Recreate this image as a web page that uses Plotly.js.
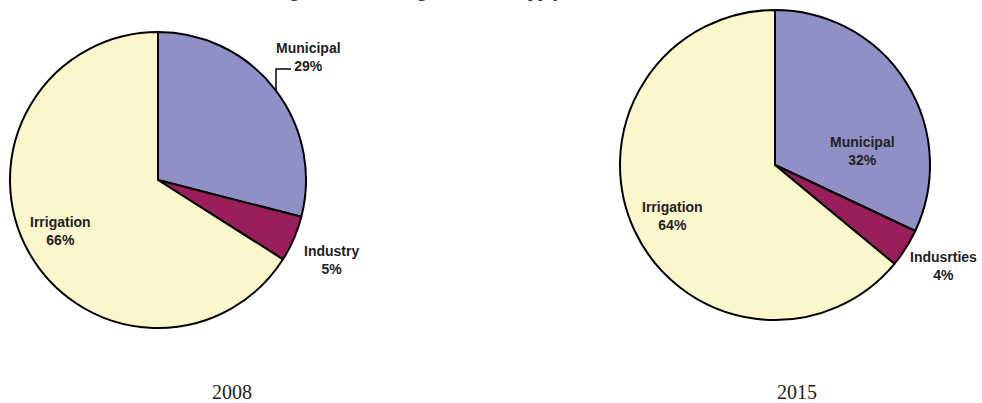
<!DOCTYPE html>
<html>
<head>
<meta charset="utf-8">
<script src="https://cdn.plot.ly/plotly-3.0.1.min.js"></script>
<style>html,body{margin:0;padding:0;background:#fff}#chart{width:982px;height:403px}</style>
</head>
<body>
<div id="chart"></div>
<script>
// ---- data ----
const labels2008 = ["Municipal", "Industry", "Irrigation"];
const values2008 = [29, 5, 66];
const labels2015 = ["Municipal", "Indusrties", "Irrigation"];
const values2015 = [32, 4, 64];
const years = ["2008", "2015"];
const sliceColors = ["#9090C6", "#9A1E5C", "#FAF7CD"];
const titleText = "Change in Water Usage in Total Supply";

const W = 982, H = 403;
const px = x => x / W;
const py = y => 1 - y / H;

function pieTrace(labels, values, box) {
  return {
    type: "pie",
    labels: labels,
    values: values,
    sort: false,
    direction: "clockwise",
    rotation: 0,
    textinfo: "none",
    hoverinfo: "label+percent",
    showlegend: false,
    marker: { colors: sliceColors, line: { color: "#000", width: 2 } },
    domain: { x: [px(box[0]), px(box[2])], y: [py(box[3]), py(box[1])] }
  };
}

const traces = [
  pieTrace(labels2008, values2008, [10, 32, 306, 328]),
  pieTrace(labels2015, values2015, [620, 10, 930, 320])
];

const lblFont = { family: "Liberation Sans, Arial, sans-serif", size: 14, color: "#222" };
function lbl(text, x, y) {
  return { text: text, x: px(x), y: py(y), xref: "paper", yref: "paper",
           showarrow: false, xanchor: "center", yanchor: "middle", font: lblFont };
}
const pct = v => v + "%";

const annotations = [
  lbl("<b>" + labels2008[0] + "<br>" + pct(values2008[0]) + "</b>", 308, 57),
  lbl("<b>" + labels2008[1] + "<br>" + pct(values2008[1]) + "</b>", 331, 260),
  lbl("<b>" + labels2008[2] + "<br>" + pct(values2008[2]) + "</b>", 60, 231),
  lbl("<b>" + labels2015[0] + "<br>" + pct(values2015[0]) + "</b>", 862, 151),
  lbl("<b>" + labels2015[1] + "<br>" + pct(values2015[1]) + "</b>", 943, 266),
  lbl("<b>" + labels2015[2] + "<br>" + pct(values2015[2]) + "</b>", 672, 216),
  { text: years[0], x: px(232), y: py(392), xref: "paper", yref: "paper", showarrow: false,
    xanchor: "center", yanchor: "middle", font: { family: "Liberation Serif, Times New Roman, serif", size: 20, color: "#222" } },
  { text: years[1], x: px(797), y: py(392), xref: "paper", yref: "paper", showarrow: false,
    xanchor: "center", yanchor: "middle", font: { family: "Liberation Serif, Times New Roman, serif", size: 20, color: "#222" } },
  { text: titleText, x: px(245), y: py(-11), xref: "paper", yref: "paper", showarrow: false,
    xanchor: "left", yanchor: "middle", font: { family: "Liberation Serif, Times New Roman, serif", size: 20, color: "#222" } }
];

const shapes = [
  { type: "path", xref: "paper", yref: "paper",
    path: `M ${px(276)} ${py(91)} L ${px(276)} ${py(69)} L ${px(291)} ${py(69)}`,
    line: { color: "#000", width: 1.5 } }
];

const layout = {
  width: W, height: H,
  margin: { l: 0, r: 0, t: 0, b: 0 },
  paper_bgcolor: "#fff",
  annotations: annotations,
  shapes: shapes
};

Plotly.newPlot("chart", traces, layout, { displayModeBar: false, staticPlot: true });
</script>
</body>
</html>
